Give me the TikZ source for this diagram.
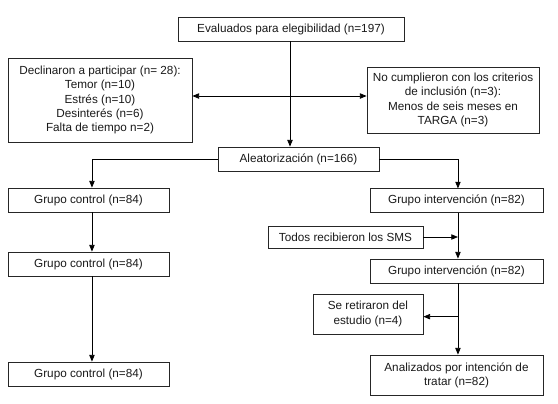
\documentclass[tikz,border=0pt]{standalone}
\usepackage{fontspec}
\setmainfont{Liberation Sans}
\usetikzlibrary{arrows.meta,calc}
\begin{document}
\begin{tikzpicture}[x=0.75pt,y=-0.75pt,
  box/.style={draw=black!85,line width=0.6pt,inner sep=1pt,align=center,
    font=\fontsize{8.8}{10.6}\selectfont,text=black!90},
  arr/.style={line width=0.6pt,-{Triangle[length=5pt,width=4pt]}},
  darr/.style={line width=0.6pt,{Triangle[length=5pt,width=4pt]}-{Triangle[length=5pt,width=4pt]}},
  ln/.style={line width=0.6pt}]
\useasboundingbox (0,0) rectangle (558,404);
\node[box,minimum width=169.5pt,minimum height=18pt] (ev) at (291,29) {Evaluados para elegibilidad (n=197)};
\node[box,minimum width=138pt,minimum height=63pt] (dec) at (100,100) {Declinaron a participar (n= 28):\\Temor (n=10)\\Estrés (n=10)\\Desinterés (n=6)\\Falta de tiempo n=2)};
\node[box,minimum width=129pt,minimum height=49.5pt] (noc) at (453,100) {No cumplieron con los criterios\\de inclusión (n=3):\\Menos de seis meses en\\TARGA (n=3)};
\node[box,minimum width=120.75pt,minimum height=18pt] (alea) at (298.5,159) {Aleatorización (n=166)};
\node[box,minimum width=120.75pt,minimum height=18pt] (gc1) at (88.5,200) {Grupo control (n=84)};
\node[box,minimum width=129.75pt,minimum height=17.5pt] (gi1) at (456.5,200.5) {Grupo intervención (n=82)};
\node[box,minimum width=116.25pt,minimum height=16.5pt] (todos) at (345.5,237) {Todos recibieron los SMS};
\node[box,minimum width=120.75pt,minimum height=18pt] (gc2) at (88.5,264) {Grupo control (n=84)};
\node[box,minimum width=129.75pt,minimum height=18pt] (gi2) at (456.5,271) {Grupo intervención (n=82)};
\node[box,minimum width=82.5pt,minimum height=30pt] (ret) at (368,314) {Se retiraron del\\estudio (n=4)};
\node[box,minimum width=120.75pt,minimum height=18pt] (gc3) at (88.5,374) {Grupo control (n=84)};
\node[box,minimum width=129.75pt,minimum height=30pt] (ana) at (456.5,375) {Analizados por intención de\\tratar (n=82)};
% connectors
\draw[arr] ([xshift=-0.75pt]ev.south) -- ([xshift=-0.75pt]ev.south |- alea.north);
\draw[darr] ([yshift=3pt]dec.east) -- ([yshift=3pt]noc.west);
\draw[arr] (alea.west) -| ([xshift=2.6pt]gc1.north);
\draw[arr] (alea.east) -| ([xshift=1.1pt]gi1.north);
\draw[arr] ([xshift=2.6pt]gc1.south) -- ([xshift=2.6pt]gc2.north);
\draw[arr] ([xshift=2.6pt]gc2.south) -- ([xshift=2.6pt]gc3.north);
\draw[arr] ([xshift=1.1pt]gi1.south) -- ([xshift=1.1pt]gi2.north);
\draw[arr] (todos.east) -- ([xshift=1.1pt]todos.east -| gi1.south);
\draw[arr] ([xshift=1.1pt]gi2.south) -- ([xshift=1.1pt]ana.north);
\draw[arr] ([xshift=1.1pt,yshift=-2pt]ret.east -| gi2.south) -- ([yshift=-2pt]ret.east);
\end{tikzpicture}
\end{document}
